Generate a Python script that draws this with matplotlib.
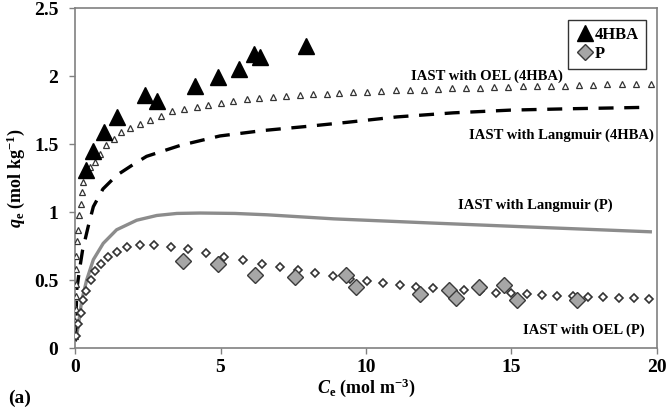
import numpy as np
import matplotlib
matplotlib.use('Agg')
import matplotlib.pyplot as plt

plt.rcParams['font.family'] = ['Liberation Serif', 'DejaVu Serif']
plt.rcParams['font.weight'] = 'bold'
plt.rcParams['mathtext.fontset'] = 'custom'
plt.rcParams['mathtext.rm'] = 'Liberation Serif:bold'
plt.rcParams['mathtext.it'] = 'Liberation Serif:bold:italic'
plt.rcParams['mathtext.bf'] = 'Liberation Serif:bold'

# experimental 4HBA
hba_x = [0.38, 0.61, 1.01, 1.45, 2.41, 2.81, 4.12, 4.93, 5.62, 6.15, 6.36, 7.93]
hba_y = [1.31, 1.45, 1.59, 1.70, 1.86, 1.82, 1.93, 1.99, 2.05, 2.16, 2.14, 2.22]

# experimental P
p_x = [3.72, 4.93, 6.20, 7.56, 9.32, 9.66, 11.84, 12.84, 13.10, 13.90, 14.73, 15.19, 17.25]
p_y = [0.64, 0.615, 0.54, 0.525, 0.54, 0.45, 0.395, 0.43, 0.365, 0.45, 0.46, 0.35, 0.35]

# IAST with OEL (4HBA)
oel_hba_x = [0.01, 0.01, 0.02, 0.02, 0.03, 0.03, 0.05, 0.07, 0.10, 0.14, 0.20, 0.24, 0.28,
             0.39, 0.52, 0.68, 0.85, 1.08, 1.34, 1.59, 1.90, 2.22, 2.56, 2.97, 3.34,
             3.76, 4.18, 4.58, 5.00, 5.44, 5.90, 6.33, 6.79, 7.25, 7.73, 8.19, 8.65,
             9.08, 9.55, 10.04, 10.52, 11.04, 11.52, 12.00, 12.48, 12.96, 13.44, 13.93,
             14.41, 14.89, 15.40, 15.88, 16.36, 16.84, 17.32, 17.80, 18.28, 18.80, 19.28, 19.80]
oel_hba_y = [0.09, 0.20, 0.29, 0.38, 0.47, 0.58, 0.68, 0.79, 0.87, 0.98, 1.06, 1.15, 1.22,
             1.29, 1.33, 1.37, 1.43, 1.49, 1.54, 1.59, 1.62, 1.65, 1.68, 1.71, 1.74,
             1.76, 1.77, 1.79, 1.80, 1.82, 1.83, 1.84, 1.85, 1.855, 1.86, 1.865, 1.87,
             1.875, 1.88, 1.885, 1.89, 1.895, 1.90, 1.90, 1.905, 1.91, 1.91, 1.915,
             1.92, 1.92, 1.925, 1.925, 1.93, 1.93, 1.935, 1.935, 1.94, 1.94, 1.94, 1.945]

# IAST with OEL (P)
oel_p_x = [0.03, 0.10, 0.20, 0.27, 0.39, 0.54, 0.70, 0.90, 1.13, 1.43, 1.80, 2.23, 2.73,
           3.29, 3.87, 4.49, 5.12, 5.76, 6.42, 7.05, 7.66, 8.25, 8.86, 9.46, 10.03,
           10.60, 11.17, 11.72, 12.30, 12.84, 13.38, 13.93, 14.46, 14.98, 15.53, 16.06,
           16.58, 17.10, 17.63, 18.15, 18.68, 19.20, 19.71]
oel_p_y = [0.09, 0.18, 0.26, 0.35, 0.42, 0.50, 0.57, 0.62, 0.67, 0.71, 0.74, 0.755, 0.755,
           0.745, 0.73, 0.70, 0.67, 0.645, 0.62, 0.595, 0.575, 0.55, 0.53, 0.51, 0.495,
           0.48, 0.467, 0.452, 0.443, 0.433, 0.425, 0.416, 0.408, 0.403, 0.396, 0.39,
           0.386, 0.381, 0.376, 0.374, 0.369, 0.367, 0.364]

# IAST with Langmuir (4HBA)
lang_hba_x = [0.01, 0.04, 0.06, 0.15, 0.26, 0.46, 0.63, 0.96, 1.43, 2.0, 2.46, 3.61,
              4.98, 6.47, 7.96, 9.34, 11.06, 13.0, 14.96, 17.0, 19.5]
lang_hba_y = [0.05, 0.26, 0.43, 0.57, 0.72, 0.90, 1.04, 1.17, 1.27, 1.35, 1.41, 1.49,
              1.56, 1.60, 1.63, 1.66, 1.70, 1.73, 1.75, 1.76, 1.77]

# IAST with Langmuir (P)
lang_p_x = [0.02, 0.11, 0.23, 0.40, 0.63, 0.97, 1.43, 2.12, 2.81, 3.5, 4.3, 5.5, 6.6, 8.9,
            12.2, 15.65, 19.77]
lang_p_y = [0.06, 0.157, 0.35, 0.50, 0.65, 0.77, 0.87, 0.94, 0.975, 0.99, 0.993, 0.99,
            0.98, 0.95, 0.92, 0.89, 0.855]

fig = plt.figure(figsize=(6.68, 4.08), dpi=100)
ax = fig.add_axes([0.1123, 0.147, 0.8712, 0.833])

ax.plot(lang_p_x, lang_p_y, color='#8c8c8c', lw=2.4, zorder=2, solid_joinstyle='round')
ax.plot(lang_hba_x, lang_hba_y, color='black', lw=2.4, dashes=(4.5, 3.2), zorder=2)
ax.plot(oel_hba_x, oel_hba_y, ls='none', marker='^', ms=4.5, mfc='white', mec='#333333', mew=0.9, zorder=3)
ax.plot(oel_p_x, oel_p_y, ls='none', marker='D', ms=3.6, mfc='white', mec='#333333', mew=1.2, zorder=3)
ax.plot(hba_x, hba_y, ls='none', marker='^', ms=11, color='black', label='4HBA', zorder=4)
ax.plot(p_x, p_y, ls='none', marker='D', ms=8, mfc='#a6a6a6', mec='#3a3a3a', mew=1.0, label='P', zorder=4)

ax.text(14.17, 2.0, 'IAST with OEL (4HBA)', ha='center', va='center', fontsize=10.5, fontweight='bold')
ax.text(16.73, 1.566, 'IAST with Langmuir (4HBA)', ha='center', va='center', fontsize=10.5, fontweight='bold')
ax.text(15.82, 1.05, 'IAST with Langmuir (P)', ha='center', va='center', fontsize=10.5, fontweight='bold')
ax.text(17.47, 0.13, 'IAST with OEL (P)', ha='center', va='center', fontsize=10.5, fontweight='bold')

ax.set_xlim(0, 20)
ax.set_ylim(0, 2.5)
ax.set_xticks([0, 5, 10, 15, 20])
ax.set_yticks([0, 0.5, 1, 1.5, 2, 2.5])
ax.set_yticklabels(['0', '0.5', '1', '1.5', '2', '2.5'])
ax.tick_params(labelsize=14, colors='black', length=4, width=1)
ax.tick_params(axis='x', color='#808080', pad=4)
ax.tick_params(axis='y', color='#808080', pad=8)
for lab in ax.get_xticklabels() + ax.get_yticklabels():
    lab.set_fontweight('bold')
for sp in ax.spines.values():
    sp.set_color('#808080')
    sp.set_linewidth(1.2)

ax.set_xlabel(r'$C_\mathrm{e}$ (mol m$^{-3}$)', fontsize=13, fontweight='bold', labelpad=0)
ax.set_ylabel(r'$q_\mathrm{e}$ (mol kg$^{-1}$)', fontsize=13, fontweight='bold', labelpad=5)

fig.text(0.012, 0.012, '(a)', fontsize=14, fontweight='bold')

leg = ax.legend(loc='upper right', bbox_to_anchor=(0.995, 0.99), frameon=True,
                fancybox=False, handletextpad=0.0, handlelength=1.2, borderpad=0.4,
                labelspacing=0.2, prop={'weight': 'bold', 'size': 12})
leg.get_frame().set_edgecolor('black')
leg.get_frame().set_linewidth(1.0)

fig.savefig('out.png', dpi=100)
